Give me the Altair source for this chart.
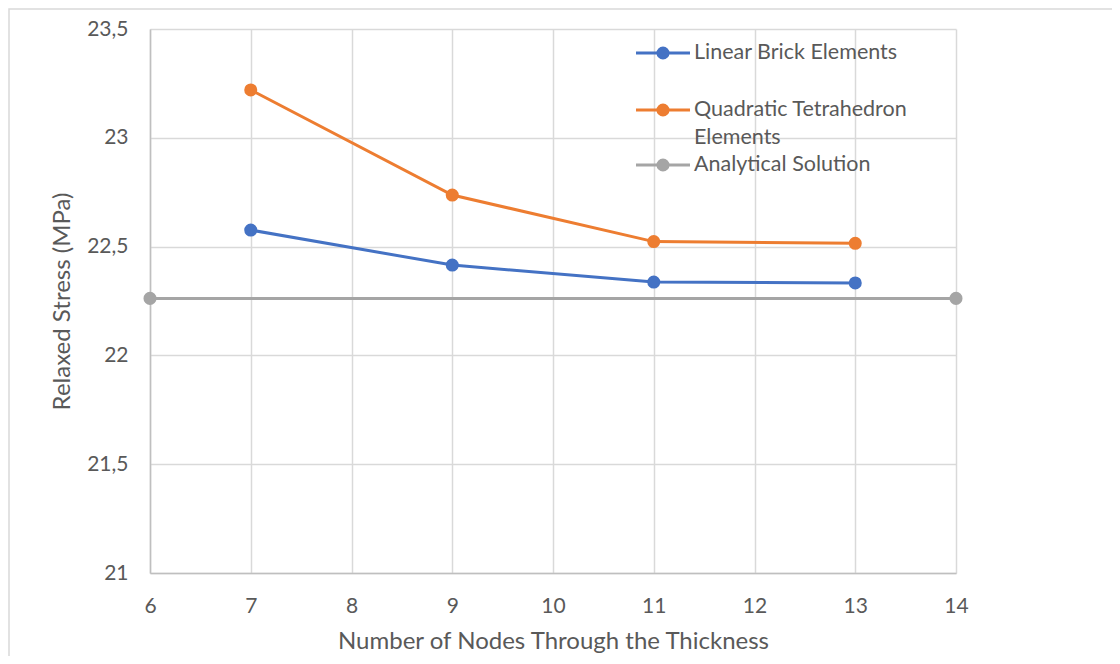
import altair as alt
import pandas as pd

nodes = [7, 9, 11, 13]
linear_brick = [22.576, 22.415, 22.337, 22.333]
quad_tet = [23.220, 22.737, 22.523, 22.515]
analytical_x = [6, 14]
analytical_y = [22.262, 22.262]
series_names = ["Linear Brick Elements", "Quadratic Tetrahedron Elements", "Analytical Solution"]
legend_labels = ["Linear Brick Elements", "Quadratic Tetrahedron\nElements", "Analytical Solution"]
colors = ["#4472C4", "#ED7D31", "#A5A5A5"]
x_ticks = list(range(6, 15))
y_ticks = [21, 21.5, 22, 22.5, 23, 23.5]

FONT = "Lato"
TXT = "#595959"

df = pd.concat([
    pd.DataFrame({"x": nodes, "y": linear_brick, "s": series_names[0]}),
    pd.DataFrame({"x": nodes, "y": quad_tet, "s": series_names[1]}),
    pd.DataFrame({"x": analytical_x, "y": analytical_y, "s": series_names[2]}),
], ignore_index=True)

color = alt.Color("s:N", scale=alt.Scale(domain=series_names, range=colors), legend=None)

xenc = alt.X("x:Q", scale=alt.Scale(domain=[6, 14], nice=False),
             axis=alt.Axis(values=x_ticks, format="d", title="Number of Nodes Through the Thickness",
                           grid=True, ticks=False, labelFlush=False, labelPadding=22,
                           titlePadding=13, titleFontSize=24))
yenc = alt.Y("y:Q", scale=alt.Scale(domain=[21, 23.5], nice=False, zero=False),
             axis=alt.Axis(values=y_ticks, title="Relaxed Stress (MPa)", grid=True, ticks=False,
                           labelPadding=22, titlePadding=12, titleFontSize=24,
                           labelExpr="replace(format(datum.value, '~g'), '.', ',')"))

border = alt.Chart(pd.DataFrame({"a": [0]})).mark_rect(
    fillOpacity=0, stroke="#d9d9d9", strokeWidth=1.5
).encode(x=alt.value(-141), x2=alt.value(1000), y=alt.value(-20), y2=alt.value(700))

lines = alt.Chart(df).mark_line(strokeWidth=3).encode(x=xenc, y=yenc, color=color, detail="s:N")
points = alt.Chart(df).mark_point(filled=True, opacity=1, size=170).encode(x="x:Q", y="y:Q", color=color)

legend_y = [24, 81, 136]
leg_layers = []
for name, lab, col, ly in zip(series_names, legend_labels, colors, legend_y):
    d = pd.DataFrame({"s": [name], "lab": [lab]})
    leg_layers.append(alt.Chart(d).mark_rule(color=col, strokeWidth=3).encode(
        x=alt.value(486), x2=alt.value(540), y=alt.value(ly)))
    leg_layers.append(alt.Chart(d).mark_point(filled=True, opacity=1, size=170, color=col).encode(
        x=alt.value(513), y=alt.value(ly)))
    leg_layers.append(alt.Chart(d).mark_text(align="left", baseline="middle", font=FONT, fontSize=21.5,
                                             color=TXT, lineBreak="\n", lineHeight=28).encode(
        x=alt.value(544), y=alt.value(ly), text="lab:N"))

chart = alt.layer(border, lines, points, *leg_layers).properties(
    width=806, height=544,
    autosize=alt.AutoSizeParams(type="none"),
    padding={"left": 142, "top": 21, "right": 156, "bottom": 83},
).configure_view(strokeWidth=0).configure_axis(
    gridColor="#d9d9d9", gridWidth=1.5, domainColor="#bfbfbf", domainWidth=1.5,
    labelFont=FONT, labelFontSize=21, labelColor=TXT,
    titleFont=FONT, titleColor=TXT, titleFontWeight="normal",
)

chart.save("out.html", embed_options={"renderer": "svg", "actions": False})
